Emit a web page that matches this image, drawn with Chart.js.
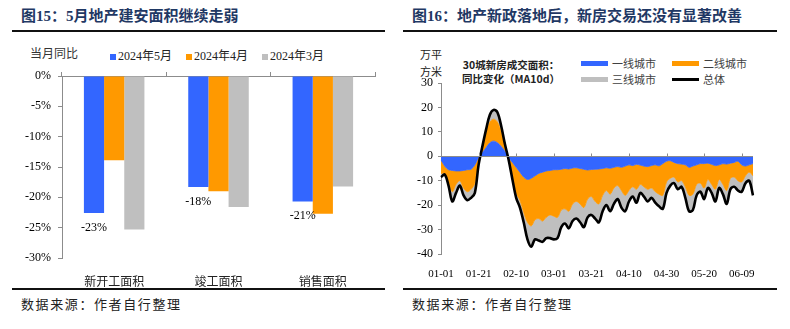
<!DOCTYPE html>
<html><head><meta charset="utf-8">
<script src="https://cdn.jsdelivr.net/npm/chart.js@4.4.0/dist/chart.umd.min.js"></script>
<style>
body{margin:0;width:790px;height:329px;background:#fff;position:relative;overflow:hidden;}
.abs{position:absolute;white-space:nowrap;line-height:1;}
.title{font-family:'Liberation Serif','Noto Sans CJK SC',serif;font-weight:bold;font-size:15px;color:#1F3864;}
.rule{position:absolute;height:2px;background:#111;}
.src{font-family:'Noto Sans CJK SC',sans-serif;font-size:13px;letter-spacing:1.6px;color:#222;}
.lg{font-family:'Liberation Serif','Noto Sans CJK SC',serif;font-size:12px;color:#222;}
.lg2{font-family:'Noto Sans CJK SC',sans-serif;font-size:11px;color:#404040;}
.sw{position:absolute;}
canvas{position:absolute;}
</style></head>
<body>
<div class="abs title" style="left:21px;top:9px;">图15：5月地产建安面积继续走弱</div>
<div class="rule" style="left:12px;top:30px;width:373px;"></div>
<div class="rule" style="left:12px;top:288px;width:373px;"></div>
<div class="abs src" style="left:21px;top:297px;">数据来源：作者自行整理</div>

<div class="abs title" style="left:412px;top:9px;">图16：地产新政落地后，新房交易还没有显著改善</div>
<div class="rule" style="left:403px;top:30px;width:374px;"></div>
<div class="rule" style="left:403px;top:288px;width:374px;"></div>
<div class="abs src" style="left:412px;top:297px;">数据来源：作者自行整理</div>

<div class="abs lg" style="left:30px;top:47px;font-family:'Noto Sans CJK SC';color:#333;">当月同比</div>
<div id="leftLegend"></div>

<div class="abs lg2" style="left:420px;top:49px;color:#222;">万平</div>
<div class="abs lg2" style="left:420px;top:66px;color:#222;">方米</div>
<div class="abs" style="left:451px;top:58px;width:120px;text-align:center;font-family:'Noto Sans CJK SC';font-weight:bold;font-size:10.5px;color:#222;line-height:14px;">30城新房成交面积：<br>同比变化（MA10d）</div>
<div id="rightLegend"></div>

<canvas id="c1" width="395" height="250" style="left:0;top:40px;"></canvas>
<canvas id="c2" width="395" height="245" style="left:395px;top:40px;"></canvas>

<script>
// ---------- Left chart data ----------
const categories = ['新开工面积', '竣工面积', '销售面积'];
const may2024 = [-22.6, -18.3, -20.7];
const apr2024 = [-13.9, -19.0, -22.7];
const mar2024 = [-25.3, -21.6, -18.2];
const barSeriesNames = ['2024年5月', '2024年4月', '2024年3月'];

// ---------- Right chart data (every 2 days, 2024) ----------
const dateLabels = ['01-01','01-03','01-05','01-07','01-09','01-11','01-13','01-15','01-17','01-19','01-21','01-23','01-25','01-27','01-29','01-31',
'02-02','02-04','02-06','02-08','02-10','02-12','02-14','02-16','02-18','02-20','02-22','02-24','02-26','02-28',
'03-01','03-03','03-05','03-07','03-09','03-11','03-13','03-15','03-17','03-19','03-21','03-23','03-25','03-27','03-29','03-31',
'04-02','04-04','04-06','04-08','04-10','04-12','04-14','04-16','04-18','04-20','04-22','04-24','04-26','04-28','04-30',
'05-02','05-04','05-06','05-08','05-10','05-12','05-14','05-16','05-18','05-20','05-22','05-24','05-26','05-28','05-30',
'06-01','06-03','06-05','06-07','06-09','06-11','06-13','06-15'];
const shownTicks = ['01-01','01-21','02-10','03-01','03-21','04-10','04-30','05-20','06-09'];
const tierNames = ['一线城市', '二线城市', '三线城市', '总体'];
const tier1 = [-1.5,-4,-5.5,-5.8,-6,-6,-5.8,-5.5,-5.3,-3.5,-0.5,1.5,3.5,5.5,6.2,5.5,4,2,-0.5,-2.5,-4.5,-6.5,-8.5,-9.5,-9,-8,-7,-6.5,-6,-5.8,-5.5,-5.5,-5.3,-5,-5.2,-4.8,-4.7,-5,-5.3,-5.6,-5.4,-5.3,-5.2,-5,-4.7,-4.9,-4.5,-4.2,-4.5,-4,-3.5,-3.8,-3.3,-3.6,-4,-4.2,-3.8,-3.5,-3.9,-3,-2,-1.8,-2.5,-3,-3.2,-3.5,-4.5,-4,-3.5,-3,-3,-2.8,-3.3,-3.8,-3.5,-3,-3.2,-2.8,-2.5,-2,-3.5,-4,-3.5,-3];
const tier2 = [-5.5,-3,-5,-8.7,-5.5,-4,-7.2,-9,-8.2,-7.5,-2,2,6,8.5,9,8.5,6,2,-0.5,-5.5,-10.5,-11.5,-14.5,-17.5,-19.5,-18,-18.5,-20,-19,-18.2,-19,-19.5,-16.7,-16.5,-17.3,-14.7,-13.8,-14.5,-15.7,-11.9,-11.1,-13.2,-14.3,-11,-9.3,-10.6,-8.5,-7.8,-9.5,-12,-10.5,-8.7,-10.2,-7.9,-8.5,-9.3,-9.2,-11,-11.6,-13,-8.5,-7.2,-6,-7.5,-6.8,-9,-11.5,-11.5,-8,-8,-10,-6.7,-8.2,-9.7,-6,-8.5,-10.8,-6.2,-6,-8,-7,-4,-3,-5];
const tier3 = [-1.5,-0.5,-1.5,-4,-3.5,-2,-3,-3.5,-3.5,-4,-1,0.5,1.5,3,3.8,4,2.5,1,-0.5,-1.5,-2,-3,-4,-7,-8.5,-8,-9,-8.5,-8.5,-9.5,-9.5,-8.5,-7,-6,-7,-7,-7,-7.5,-8,-7.5,-7.5,-7,-7.5,-6.5,-6,-7,-6.5,-5.5,-7,-6.5,-4.5,-4,-5.5,-3.5,-4,-5,-4,-4.5,-5,-5.5,-4.5,-3,-2.5,-3,-2.5,-4.5,-6.5,-6.5,-4.5,-3.5,-4.5,-3.5,-3.5,-5,-3.5,-4,-5.5,-4.5,-4,-4,-4,-3,-3.5,-8];
const totalAll = [-8.5,-7.5,-12,-18.5,-15,-12,-16,-18,-17,-15,-3.5,4,11,17,19,18,12.5,5,-1.5,-9.5,-17,-21,-27,-34,-37,-34,-34.5,-35,-33.5,-33.5,-34,-33.5,-29,-27.5,-29.5,-26.5,-25.5,-27,-29,-25,-24,-25.5,-27,-22.5,-20,-22.5,-19.5,-17.5,-21,-22.5,-18.5,-16.5,-19,-15,-16.5,-18.5,-17,-19,-20.5,-21.5,-15,-12,-11,-13.5,-12.5,-17,-22.5,-22,-16,-14.5,-17.5,-13,-15,-18.5,-13,-15.5,-19.5,-13.5,-12.5,-14,-14.5,-11,-10,-16];

const BLUE = '#3366FF', ORANGE = '#FF9900', GREY = '#BFBFBF', AXIS = '#8C8C8C';
const SERIF = "'Liberation Serif', 'Noto Sans CJK SC', serif";
const CJK = "'Noto Sans CJK SC', sans-serif";

// HTML legends
(function(){
  const L = document.getElementById('leftLegend');
  const cols = [BLUE, ORANGE, GREY];
  const xs = [110, 186, 262];
  barSeriesNames.forEach((n,i)=>{
    L.insertAdjacentHTML('beforeend',
      `<div class="sw" style="left:${xs[i]}px;top:54px;width:6px;height:6px;background:${cols[i]}"></div>` +
      `<div class="abs lg" style="left:${xs[i]+8}px;top:50px;">${n}</div>`);
  });
  const R = document.getElementById('rightLegend');
  const rc = [BLUE, ORANGE, GREY, '#000'];
  const pos = [[581,63],[672,63],[581,79],[672,79]];
  tierNames.forEach((n,i)=>{
    const h = i===3 ? 3 : 5;
    R.insertAdjacentHTML('beforeend',
      `<div class="sw" style="left:${pos[i][0]}px;top:${pos[i][1]-h/2}px;width:27px;height:${h}px;background:${rc[i]}"></div>` +
      `<div class="abs lg2" style="left:${pos[i][0]+31}px;top:${pos[i][1]-5.5}px;">${n}</div>`);
  });
})();

Chart.defaults.font.family = SERIF;
Chart.defaults.color = '#000';

const barLabelPlugin = {
  id: 'barLabels',
  afterDatasetsDraw(chart){
    const ctx = chart.ctx;
    const meta = chart.getDatasetMeta(0);
    ctx.save();
    ctx.font = "12px " + SERIF;
    ctx.fillStyle = '#000';
    ctx.textAlign = 'center';
    ctx.textBaseline = 'middle';
    meta.data.forEach((bar, i) => {
      const v = chart.data.datasets[0].data[i];
      ctx.fillText(Math.round(v) + '%', bar.x, bar.y + 14.5);
    });
    ctx.restore();
  }
};

new Chart(document.getElementById('c1'), {
  type: 'bar',
  data: {
    labels: categories,
    datasets: [
      {label: barSeriesNames[0], data: may2024, backgroundColor: BLUE},
      {label: barSeriesNames[1], data: apr2024, backgroundColor: ORANGE},
      {label: barSeriesNames[2], data: mar2024, backgroundColor: GREY}
    ]
  },
  options: {
    responsive: false, animation: false, devicePixelRatio: 1,
    layout: {padding: {left: 0, right: 20, top: 32, bottom: 0}},
    plugins: {legend: {display: false}, tooltip: {enabled: false}},
    datasets: {bar: {categoryPercentage: 0.58, barPercentage: 1, borderWidth: 0}},
    scales: {
      x: {type: 'category', position: 'bottom', offset: true,
          grid: {display: false}, border: {display: false},
          ticks: {padding: 8, font: {size: 12, family: CJK}, color: '#222'},
          afterFit(s){ s.height = 32; }},
      x2: {type: 'category', labels: categories, position: 'top', offset: true,
          grid: {display: true, offset: true, drawOnChartArea: false, drawTicks: true, tickLength: 4, color: AXIS},
          border: {display: true, color: AXIS, width: 1},
          ticks: {display: false},
          afterFit(s){ s.height = 4; }},
      y: {min: -30, max: 0,
          ticks: {stepSize: 5, padding: 7, font: {size: 12}, callback: v => v + '%'},
          grid: {drawOnChartArea: false, tickLength: 4, color: AXIS},
          border: {color: AXIS},
          afterFit(s){ s.width = 62; }}
    }
  },
  plugins: [barLabelPlugin]
});

const zeroAxisPlugin = {
  id: 'zeroAxis',
  afterDatasetsDraw(chart){
    const {ctx, chartArea, scales: {x, y}} = chart;
    const y0 = Math.round(y.getPixelForValue(0)) + 0.5;
    ctx.save();
    ctx.strokeStyle = AXIS;
    ctx.lineWidth = 1;
    ctx.beginPath();
    ctx.moveTo(chartArea.left, y0);
    ctx.lineTo(chartArea.right, y0);
    dateLabels.forEach((d, i) => {
      if (shownTicks.includes(d)) {
        const px = Math.round(x.getPixelForValue(i)) + 0.5;
        ctx.moveTo(px, y0); ctx.lineTo(px, y0 - 3);
      }
    });
    ctx.stroke();
    ctx.restore();
  }
};

const areaCommon = {pointRadius: 0, borderWidth: 0.8, tension: 0.35, stack: 'tiers'};
new Chart(document.getElementById('c2'), {
  type: 'line',
  data: {
    labels: dateLabels,
    datasets: [
      {label: tierNames[3], data: totalAll, borderColor: '#000', borderWidth: 2.6, pointRadius: 0, tension: 0.35, fill: false, stack: 'total', order: -1},
      Object.assign({label: tierNames[0], data: tier1, backgroundColor: BLUE, borderColor: BLUE, fill: 'origin'}, areaCommon),
      Object.assign({label: tierNames[1], data: tier2, backgroundColor: ORANGE, borderColor: ORANGE, fill: '-1'}, areaCommon),
      Object.assign({label: tierNames[2], data: tier3, backgroundColor: GREY, borderColor: GREY, fill: '-1'}, areaCommon)
    ]
  },
  options: {
    responsive: false, animation: false, devicePixelRatio: 1,
    layout: {padding: {left: 0, right: 37, top: 43, bottom: 0}},
    plugins: {legend: {display: false}, tooltip: {enabled: false}},
    scales: {
      x: {type: 'category', offset: false,
          grid: {display: false}, border: {display: false},
          ticks: {autoSkip: false, maxRotation: 0, padding: 6, font: {size: 11},
                  callback: (v, i) => shownTicks.includes(dateLabels[i]) ? dateLabels[i] : ''},
          afterFit(s){ s.height = 31; }},
      y: {min: -40, max: 30, stacked: true,
          ticks: {stepSize: 10, padding: 5, font: {size: 12}},
          grid: {drawOnChartArea: false, tickLength: 3, color: AXIS},
          border: {color: AXIS},
          afterFit(s){ s.width = 46; }}
    }
  },
  plugins: [zeroAxisPlugin]
});
</script>
</body></html>
